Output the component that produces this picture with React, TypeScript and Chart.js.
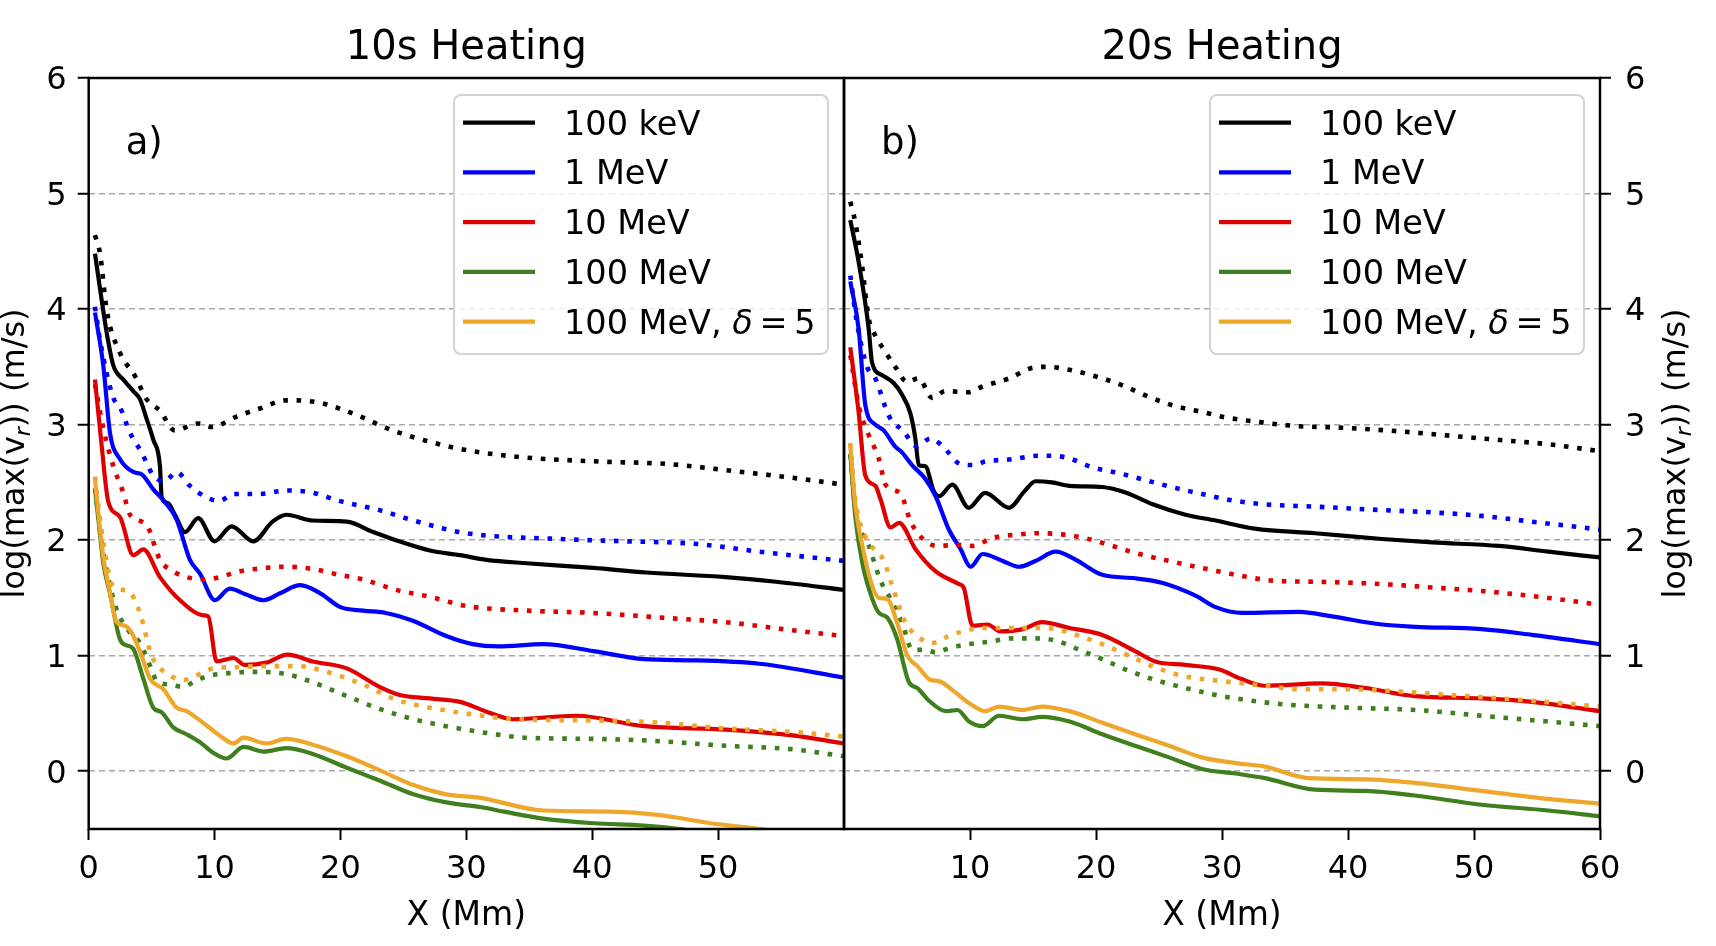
import React, { useEffect, useRef } from 'react';
import { Chart, registerables } from 'chart.js';

Chart.register(...registerables);

type Pt = [number, number];

const FONT = 'DejaVu Sans';

// labels and ticks
const panelTitles = ['10s Heating', '20s Heating'];
const panelTags = ['a)', 'b)'];
const legendLabels = ['100 keV', '1 MeV', '10 MeV', '100 MeV', '100 MeV, δ\u2009=\u20095'];
const seriesColors = ['#000000', '#0000ff', '#e00000', '#3f7f1d', '#eea62b'];
const yTickValues = [0, 1, 2, 3, 4, 5, 6];
const xTicksA = [0, 10, 20, 30, 40, 50];
const xTicksB = [10, 20, 30, 40, 50, 60];

// ---- panel a) 10s heating : solid / dotted ----
const aKevSolid: Pt[] = [[0.5, 4.48], [1.0, 4.1], [1.5, 3.75], [1.96, 3.51], [2.75, 3.39], [3.54, 3.29], [4.07, 3.22], [4.6, 3.05], [5.13, 2.87], [5.66, 2.64], [5.8, 2.37], [6.3, 2.32], [6.85, 2.22], [7.65, 2.07], [8.7, 2.19], [10.0, 1.99], [11.35, 2.12], [13.07, 1.99], [14.6, 2.16], [15.7, 2.22], [17.8, 2.17], [20.5, 2.16], [22.6, 2.07], [24.4, 2.0], [27.1, 1.91], [29.5, 1.87], [31.6, 1.83], [34.8, 1.8], [40.1, 1.76], [44.3, 1.72], [50.6, 1.68], [54.6, 1.64], [60, 1.57]];
const aKevDotted: Pt[] = [[0.5, 4.64], [0.9, 4.48], [1.43, 3.99], [2.49, 3.62], [3.68, 3.42], [4.6, 3.22], [5.66, 3.12], [6.85, 2.95], [8.7, 3.01], [9.76, 2.98], [11.75, 3.07], [13.6, 3.14], [15.7, 3.21], [17.8, 3.2], [19.9, 3.14], [21.8, 3.06], [23.9, 2.96], [26.8, 2.86], [30.0, 2.78], [34.2, 2.72], [40.6, 2.68], [45.9, 2.66], [51.1, 2.6], [55.9, 2.54], [60, 2.48]];
const a1MevSolid: Pt[] = [[0.5, 3.97], [1.16, 3.51], [1.69, 2.93], [2.49, 2.7], [3.54, 2.59], [4.2, 2.57], [5.13, 2.44], [6.05, 2.33], [6.98, 2.18], [8.04, 1.83], [8.84, 1.71], [10.03, 1.48], [11.2, 1.58], [12.5, 1.53], [13.9, 1.48], [15.2, 1.54], [16.8, 1.61], [18.4, 1.54], [20.0, 1.42], [21.8, 1.39], [23.6, 1.37], [25.8, 1.3], [28.4, 1.17], [30.5, 1.1], [32.5, 1.08], [36.1, 1.1], [40.1, 1.04], [44.1, 0.97], [48.0, 0.96], [53.3, 0.93], [60, 0.81]];
const a1MevDotted: Pt[] = [[0.5, 4.02], [0.9, 3.73], [1.96, 3.23], [2.49, 3.15], [3.28, 2.93], [4.2, 2.76], [5.13, 2.56], [6.05, 2.51], [6.98, 2.59], [8.04, 2.47], [9.37, 2.37], [10.4, 2.34], [11.5, 2.4], [13.6, 2.4], [15.7, 2.43], [17.8, 2.41], [19.9, 2.34], [23.1, 2.26], [25.8, 2.17], [30.0, 2.06], [37.4, 2.01], [42.7, 1.99], [48.0, 1.97], [53.3, 1.9], [60, 1.82]];
const a10MevSolid: Pt[] = [[0.5, 3.39], [1.0, 2.85], [1.56, 2.33], [2.49, 2.2], [3.54, 1.87], [4.34, 1.92], [5.66, 1.68], [7.25, 1.48], [9.1, 1.35], [9.5, 1.34], [10.16, 0.95], [11.5, 0.98], [12.4, 0.92], [14.1, 0.94], [15.8, 1.01], [17.8, 0.95], [20.5, 0.89], [23.1, 0.73], [24.7, 0.66], [27.1, 0.63], [29.5, 0.6], [31.5, 0.52], [33.7, 0.45], [38.7, 0.48], [44.1, 0.39], [50.6, 0.36], [55.9, 0.31], [60, 0.24]];
const a10MevDotted: Pt[] = [[0.5, 3.35], [1.2, 2.95], [1.96, 2.64], [2.75, 2.41], [3.28, 2.22], [4.6, 2.13], [5.66, 1.83], [6.72, 1.73], [7.77, 1.68], [9.37, 1.66], [10.4, 1.68], [12.0, 1.73], [14.1, 1.76], [15.7, 1.77], [17.8, 1.75], [19.9, 1.7], [21.8, 1.66], [24.4, 1.57], [27.1, 1.51], [30.0, 1.43], [34.8, 1.39], [40.1, 1.37], [45.4, 1.33], [50.6, 1.29], [55.9, 1.22], [60, 1.17]];
const a100MevSolid: Pt[] = [[0.5, 2.44], [0.8, 2.15], [1.16, 1.8], [1.69, 1.54], [2.49, 1.14], [3.01, 1.09], [3.54, 1.06], [4.34, 0.8], [5.13, 0.55], [5.8, 0.51], [6.72, 0.38], [7.77, 0.32], [8.84, 0.25], [9.9, 0.16], [10.95, 0.11], [12.3, 0.21], [13.9, 0.17], [15.7, 0.2], [17.8, 0.15], [20.5, 0.03], [23.1, -0.08], [25.8, -0.2], [28.4, -0.27], [31.1, -0.31], [33.0, -0.35], [36.1, -0.41], [40.1, -0.45], [44.1, -0.47], [47.0, -0.5], [52.0, -0.58]];
const a100MevDotted: Pt[] = [[0.5, 2.45], [1.0, 2.0], [1.5, 1.7], [2.22, 1.4], [3.28, 1.2], [4.07, 1.11], [5.0, 0.88], [5.4, 0.78], [6.46, 0.75], [7.5, 0.73], [8.44, 0.78], [9.37, 0.82], [11.2, 0.85], [13.6, 0.86], [15.7, 0.84], [17.8, 0.77], [20.5, 0.65], [23.1, 0.54], [25.8, 0.45], [28.4, 0.39], [30.5, 0.35], [34.8, 0.29], [40.1, 0.28], [45.4, 0.26], [50.6, 0.22], [55.9, 0.19], [60, 0.13]];
const aD5Solid: Pt[] = [[0.5, 2.53], [0.8, 2.2], [1.16, 1.85], [1.6, 1.6], [2.22, 1.29], [2.88, 1.26], [3.41, 1.2], [4.2, 1.0], [4.87, 0.8], [5.93, 0.71], [6.98, 0.55], [7.77, 0.52], [8.84, 0.44], [10.4, 0.31], [11.5, 0.24], [12.3, 0.29], [14.1, 0.24], [15.7, 0.28], [17.8, 0.23], [20.5, 0.13], [23.1, 0.01], [25.8, -0.12], [28.4, -0.2], [31.1, -0.23], [36.1, -0.34], [41.4, -0.35], [45.4, -0.38], [49.4, -0.45], [53.4, -0.5], [57.0, -0.56]];
const aD5Dotted: Pt[] = [[0.5, 2.55], [1.0, 2.1], [1.96, 1.6], [3.15, 1.56], [4.07, 1.37], [5.0, 1.0], [6.46, 0.83], [7.5, 0.79], [8.57, 0.83], [9.9, 0.89], [11.5, 0.9], [14.1, 0.91], [16.5, 0.91], [18.9, 0.86], [21.8, 0.75], [24.4, 0.62], [27.1, 0.55], [30.0, 0.5], [34.0, 0.45], [40.1, 0.44], [45.4, 0.42], [50.6, 0.37], [55.9, 0.34], [60, 0.3]];

// ---- panel b) 20s heating : solid / dotted ----
const bKevSolid: Pt[] = [[0.5, 4.77], [1.16, 4.41], [1.96, 3.83], [2.22, 3.54], [3.0, 3.43], [3.94, 3.36], [4.6, 3.26], [5.26, 3.1], [5.66, 2.88], [5.93, 2.65], [6.46, 2.64], [7.1, 2.43], [7.54, 2.38], [8.6, 2.48], [9.9, 2.28], [11.2, 2.41], [13.1, 2.28], [14.3, 2.42], [15.2, 2.51], [16.5, 2.5], [17.9, 2.47], [20.5, 2.46], [22.4, 2.41], [24.5, 2.31], [27.1, 2.22], [29.5, 2.17], [32.6, 2.1], [37.4, 2.06], [42.7, 2.01], [46.7, 1.98], [52.0, 1.95], [55.9, 1.9], [60, 1.85]];
const bKevDotted: Pt[] = [[0.5, 4.93], [0.9, 4.75], [1.43, 4.38], [1.96, 3.92], [2.49, 3.77], [3.28, 3.63], [4.07, 3.5], [5.0, 3.37], [5.93, 3.4], [7.0, 3.23], [8.04, 3.29], [9.9, 3.28], [11.0, 3.33], [13.1, 3.4], [14.9, 3.49], [16.1, 3.5], [18.1, 3.47], [20.2, 3.41], [22.1, 3.34], [24.2, 3.24], [26.3, 3.16], [28.4, 3.11], [30.4, 3.06], [32.4, 3.03], [35.6, 2.99], [40.1, 2.97], [44.3, 2.94], [48.5, 2.9], [52.8, 2.86], [55.9, 2.83], [60, 2.77]];
const b1MevSolid: Pt[] = [[0.5, 4.24], [1.16, 3.83], [1.69, 3.17], [2.49, 3.0], [3.15, 2.95], [4.07, 2.81], [4.6, 2.76], [5.4, 2.65], [6.46, 2.53], [7.27, 2.38], [8.33, 2.09], [9.26, 1.92], [10.05, 1.77], [11.0, 1.88], [12.6, 1.82], [13.9, 1.77], [15.2, 1.82], [16.8, 1.9], [18.4, 1.83], [20.5, 1.7], [23.1, 1.67], [25.3, 1.63], [27.9, 1.52], [29.5, 1.42], [31.6, 1.37], [36.1, 1.38], [38.7, 1.34], [42.7, 1.27], [45.3, 1.25], [50.6, 1.23], [54.6, 1.18], [60, 1.1]];
const b1MevDotted: Pt[] = [[0.5, 4.29], [1.0, 3.9], [1.83, 3.5], [2.49, 3.4], [3.54, 3.08], [4.73, 2.94], [5.8, 2.81], [6.85, 2.88], [7.77, 2.82], [9.23, 2.66], [10.3, 2.65], [11.2, 2.68], [13.3, 2.7], [15.4, 2.73], [16.5, 2.73], [17.8, 2.71], [19.7, 2.63], [21.8, 2.58], [23.9, 2.52], [26.0, 2.46], [28.4, 2.4], [30.5, 2.35], [33.4, 2.31], [37.4, 2.29], [42.7, 2.26], [46.7, 2.24], [50.6, 2.21], [54.6, 2.16], [58.6, 2.11], [60, 2.09]];
const b10MevSolid: Pt[] = [[0.5, 3.67], [1.16, 3.11], [1.69, 2.56], [2.49, 2.47], [2.88, 2.36], [3.7, 2.11], [4.37, 2.15], [5.69, 1.92], [7.28, 1.73], [9.13, 1.62], [9.5, 1.59], [10.2, 1.26], [11.4, 1.27], [12.4, 1.21], [14.2, 1.23], [15.7, 1.29], [17.9, 1.24], [20.5, 1.18], [23.1, 1.04], [24.7, 0.95], [27.1, 0.92], [29.8, 0.88], [31.5, 0.8], [33.4, 0.74], [37.9, 0.76], [41.4, 0.72], [45.3, 0.65], [50.6, 0.63], [54.6, 0.6], [60, 0.52]];
const b10MevDotted: Pt[] = [[0.5, 3.6], [1.2, 3.15], [1.96, 2.91], [2.75, 2.71], [3.3, 2.48], [4.5, 2.4], [5.29, 2.16], [6.48, 1.99], [7.5, 1.95], [8.86, 1.96], [10.2, 1.95], [11.8, 2.02], [13.9, 2.05], [15.2, 2.06], [17.3, 2.05], [19.4, 2.01], [21.3, 1.95], [23.1, 1.89], [25.8, 1.82], [28.4, 1.76], [31.1, 1.7], [34.0, 1.65], [37.4, 1.64], [42.7, 1.62], [46.7, 1.59], [50.6, 1.56], [55.9, 1.5], [60, 1.44]];
const b100MevSolid: Pt[] = [[0.5, 2.75], [0.9, 2.2], [1.46, 1.8], [2.25, 1.49], [2.78, 1.37], [3.44, 1.33], [4.23, 1.14], [5.16, 0.77], [5.82, 0.72], [6.75, 0.61], [8.07, 0.52], [9.0, 0.53], [9.92, 0.43], [11.0, 0.39], [12.3, 0.48], [14.2, 0.45], [15.7, 0.47], [17.9, 0.43], [20.5, 0.32], [23.1, 0.22], [25.8, 0.12], [28.4, 0.02], [31.1, -0.02], [33.4, -0.06], [37.4, -0.16], [41.4, -0.17], [45.3, -0.21], [50.6, -0.29], [55.9, -0.34], [60, -0.39]];
const b100MevDotted: Pt[] = [[0.5, 2.74], [0.9, 2.27], [1.98, 1.95], [2.9, 1.65], [3.7, 1.49], [4.63, 1.28], [5.42, 1.05], [6.35, 1.05], [7.27, 1.03], [8.47, 1.07], [9.92, 1.1], [11.5, 1.12], [13.4, 1.15], [15.2, 1.15], [16.8, 1.13], [18.7, 1.05], [20.5, 0.97], [22.6, 0.87], [24.7, 0.79], [27.1, 0.72], [30.0, 0.65], [34.8, 0.58], [40.1, 0.55], [45.4, 0.53], [50.6, 0.48], [55.9, 0.43], [60, 0.39]];
const bD5Solid: Pt[] = [[0.5, 2.82], [0.9, 2.3], [1.46, 1.95], [2.25, 1.6], [2.78, 1.5], [3.44, 1.49], [4.23, 1.28], [5.03, 1.0], [5.82, 0.91], [6.88, 0.79], [7.54, 0.78], [8.86, 0.68], [9.92, 0.59], [11.2, 0.52], [12.3, 0.56], [14.2, 0.53], [15.7, 0.56], [17.9, 0.52], [20.5, 0.42], [23.1, 0.32], [25.8, 0.22], [28.4, 0.12], [31.1, 0.07], [33.4, 0.04], [36.9, -0.06], [41.4, -0.07], [45.3, -0.1], [50.6, -0.17], [55.9, -0.24], [60, -0.28]];
const bD5Dotted: Pt[] = [[0.5, 2.84], [0.9, 2.35], [1.7, 2.03], [3.17, 1.82], [3.84, 1.6], [4.9, 1.28], [5.7, 1.18], [7.0, 1.11], [8.3, 1.17], [9.4, 1.21], [11.0, 1.24], [13.1, 1.24], [15.2, 1.24], [16.8, 1.23], [18.7, 1.17], [20.5, 1.1], [22.6, 1.0], [24.7, 0.9], [27.1, 0.82], [30.0, 0.78], [33.4, 0.74], [36.1, 0.71], [40.1, 0.71], [44.1, 0.69], [48.0, 0.66], [53.3, 0.62], [60, 0.56]];

const solidA = [aKevSolid, a1MevSolid, a10MevSolid, a100MevSolid, aD5Solid];
const dottedA = [aKevDotted, a1MevDotted, a10MevDotted, a100MevDotted, aD5Dotted];
const solidB = [bKevSolid, b1MevSolid, b10MevSolid, b100MevSolid, bD5Solid];
const dottedB = [bKevDotted, b1MevDotted, b10MevDotted, b100MevDotted, bD5Dotted];

const H = 946;
// canvas geometry for the two panels
const panels = [
    { left: 0, width: 848, pad: { top: 78, right: 4, left: 0, bottom: 0 }, yPos: 'left', yWidth: 88.7, yTitleX: 15 },
    { left: 840, width: 876, pad: { top: 78, right: 0, left: 4, bottom: 0 }, yPos: 'right', yWidth: 116, yTitleX: 1676 - 840 },
];

function drawYTitle(ctx: CanvasRenderingContext2D, x: number, y: number) {
    const parts = [
        { t: 'log(max(v', f: `32px "${FONT}"`, dy: 9 },
        { t: 'r', f: `italic 22px "${FONT}"`, dy: 15 },
        { t: ')) (m/s)', f: `32px "${FONT}"`, dy: 9 },
    ];
    ctx.save();
    ctx.translate(x, y);
    ctx.rotate(-Math.PI / 2);
    ctx.textBaseline = 'alphabetic';
    ctx.fillStyle = '#000';
    let w = 0;
    parts.forEach(p => { ctx.font = p.f; w += ctx.measureText(p.t).width; });
    let cx = -w / 2;
    parts.forEach(p => {
        ctx.font = p.f;
        ctx.fillText(p.t, cx, p.dy);
        cx += ctx.measureText(p.t).width;
    });
    ctx.restore();
}

function drawLegend(ctx: CanvasRenderingContext2D, area: { right: number; top: number }) {
    const bw = 374, bh = 259;
    const bx = area.right - 16 - bw, by = area.top + 17;
    ctx.save();
    ctx.beginPath();
    ctx.roundRect(bx, by, bw, bh, 7);
    ctx.fillStyle = 'rgba(255,255,255,0.8)';
    ctx.fill();
    ctx.lineWidth = 2;
    ctx.strokeStyle = '#d4d4d4';
    ctx.stroke();
    legendLabels.forEach((label, i) => {
        const ly = by + 27.7 + i * 49.75;
        ctx.beginPath();
        ctx.moveTo(bx + 9, ly);
        ctx.lineTo(bx + 81, ly);
        ctx.lineWidth = 4.2;
        ctx.strokeStyle = seriesColors[i];
        ctx.stroke();
        ctx.fillStyle = '#000';
        ctx.textBaseline = 'alphabetic';
        let tx = bx + 110;
        const pieces = label.split(/(δ)/);
        pieces.forEach(p => {
            if (!p) return;
            ctx.font = p === 'δ' ? `italic 33.5px "${FONT}"` : `33.5px "${FONT}"`;
            ctx.fillText(p, tx, ly + 12);
            tx += ctx.measureText(p).width;
        });
    });
    ctx.restore();
}

const decor = (side: number) => ({
    id: 'decor' + side,
    afterDatasetsDraw(chart: Chart) {
        const { ctx, chartArea } = chart;
        const p = panels[side];
        ctx.save();
        // frame
        ctx.lineWidth = 2.5;
        ctx.strokeStyle = '#000';
        ctx.strokeRect(chartArea.left, chartArea.top, chartArea.right - chartArea.left, chartArea.bottom - chartArea.top);
        // title
        ctx.fillStyle = '#000';
        ctx.font = `40px "${FONT}"`;
        ctx.textAlign = 'center';
        ctx.textBaseline = 'alphabetic';
        ctx.fillText(panelTitles[side], (chartArea.left + chartArea.right) / 2, 59);
        // panel tag
        ctx.textAlign = 'left';
        ctx.font = `37px "${FONT}"`;
        ctx.fillText(panelTags[side], chartArea.left + 37, 154);
        ctx.restore();
        drawLegend(ctx, chartArea);
        drawYTitle(ctx, p.yTitleX, (chartArea.top + chartArea.bottom) / 2);
    },
});

const Panel: React.FC<{ side: number }> = ({ side }) => {
    const canvasRef = useRef<HTMLCanvasElement | null>(null);
    const p = panels[side];

    useEffect(() => {
        if (!canvasRef.current) return;
        const ctx = canvasRef.current.getContext('2d');
        if (!ctx) return;

        const solids = side === 0 ? solidA : solidB;
        const dotted = side === 0 ? dottedA : dottedB;
        const xTicks = side === 0 ? xTicksA : xTicksB;

        const datasets: any[] = [];
        solids.forEach((s, i) => {
            datasets.push({ label: legendLabels[i], data: s, borderColor: seriesColors[i], borderWidth: 4.2 });
            datasets.push({ label: legendLabels[i] + ' dotted', data: dotted[i], borderColor: seriesColors[i], borderWidth: 4.6, borderDash: [4.6, 8.7] });
        });
        datasets.forEach((d, i) => {
            d.order = datasets.length - i;
            d.pointRadius = 0;
            d.fill = false;
            d.cubicInterpolationMode = 'monotone';
            d.clip = 0;
        });

        const tickFont = { family: FONT, size: 32 };

        const myChart = new Chart(ctx, {
            type: 'line',
            data: { datasets },
            plugins: [decor(side)],
            options: {
                animation: false,
                responsive: false,
                devicePixelRatio: 1,
                layout: { padding: p.pad },
                plugins: {
                    legend: { display: false },
                    title: { display: false },
                    tooltip: { enabled: false },
                },
                scales: {
                    x: {
                        type: 'linear',
                        min: 0,
                        max: 60,
                        afterBuildTicks: (scale: any) => { scale.ticks = xTicks.map(v => ({ value: v })); },
                        afterFit: (scale: any) => { scale.height = 117; },
                        ticks: { font: tickFont, color: '#000', padding: 10, maxRotation: 0, minRotation: 0, autoSkip: false },
                        grid: { drawOnChartArea: false, drawTicks: true, tickLength: 11, tickColor: '#000', tickWidth: 2 },
                        border: { display: false },
                        title: {
                            display: true,
                            text: 'X (Mm)',
                            color: '#000',
                            font: { family: FONT, size: 33 },
                            padding: { top: 0, bottom: 10 },
                        },
                    },
                    y: {
                        type: 'linear',
                        position: p.yPos as any,
                        min: -0.5,
                        max: 6,
                        afterBuildTicks: (scale: any) => { scale.ticks = yTickValues.map(v => ({ value: v })); },
                        afterFit: (scale: any) => { scale.width = p.yWidth; },
                        ticks: { font: tickFont, color: '#000', padding: side === 0 ? 11 : 14, autoSkip: false, labelOffset: 3 },
                        grid: { color: '#a8a8a8', lineWidth: 1.5, drawTicks: true, tickLength: 11, tickColor: '#000', tickWidth: 2 },
                        border: { display: false, dash: [6, 4] },
                    },
                },
            },
        });

        return () => {
            myChart.destroy();
        };
    }, [side]);

    return (
        <canvas
            ref={canvasRef}
            width={p.width}
            height={H}
            style={{ position: 'absolute', left: p.left, top: 0, width: p.width, height: H }}
        />
    );
};

const App: React.FC = () => (
    <div style={{ position: 'fixed', left: 0, top: 0, width: 1716, height: H, background: '#fff' }}>
        <Panel side={0} />
        <Panel side={1} />
    </div>
);

export default App;
